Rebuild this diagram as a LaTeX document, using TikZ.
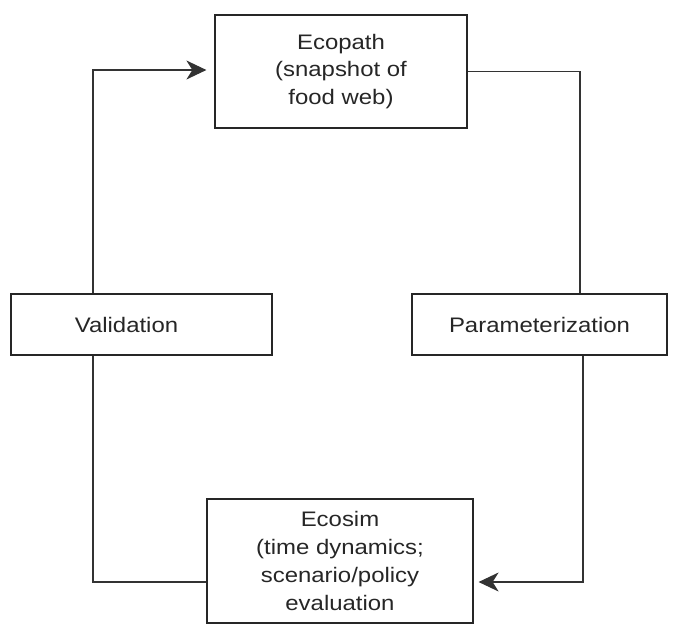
\documentclass[tikz,border=0pt]{standalone}
\usepackage{fontspec}
\setmainfont[FakeStretch=1.14]{Liberation Sans}
\usetikzlibrary{arrows.meta}
\begin{document}
\begin{tikzpicture}[x=1pt,y=-1pt,
  stagebox/.style={draw=black!85, line width=1.2pt, align=center, inner sep=0pt,
    font=\fontsize{21}{27.8}\selectfont, text=black!85},
  link/.style={draw=black!80, line width=1.2pt},
  flow/.style={link, -{Stealth[length=20pt,width=19pt,inset=6pt]}}]
\useasboundingbox (0,0) rectangle (675,629);
\node[stagebox, minimum width=252pt, minimum height=113pt] (ecopath) at (341,71.5)
  {Ecopath\\(snapshot of\\food web)};
\node[stagebox, minimum width=261pt, minimum height=61pt] (valid) at (141.5,324.5)
  {Validation\hspace*{30pt}};
\node[stagebox, minimum width=255pt, minimum height=61pt] (param) at (539.5,324.5)
  {Parameterization};
\node[stagebox, minimum width=266pt, minimum height=124pt,
      font=\fontsize{21}{28.3}\selectfont, yshift=-0pt] (ecosim) at (340,561)
  {Ecosim\\(time dynamics;\\scenario/policy\\evaluation};
% loop around the four stages
\draw[link] (ecopath.east) -| ([xshift=40.5pt]param.north);
\draw[flow, shorten >=5pt] ([xshift=43.5pt]param.south) |- ([yshift=-21pt]ecosim.east);
\draw[link] ([xshift=-48.5pt]valid.south) |- ([yshift=-21pt]ecosim.west);
\draw[flow, shorten >=8pt] ([xshift=-48.5pt]valid.north) |- ([yshift=1.5pt]ecopath.west);
\end{tikzpicture}
\end{document}
